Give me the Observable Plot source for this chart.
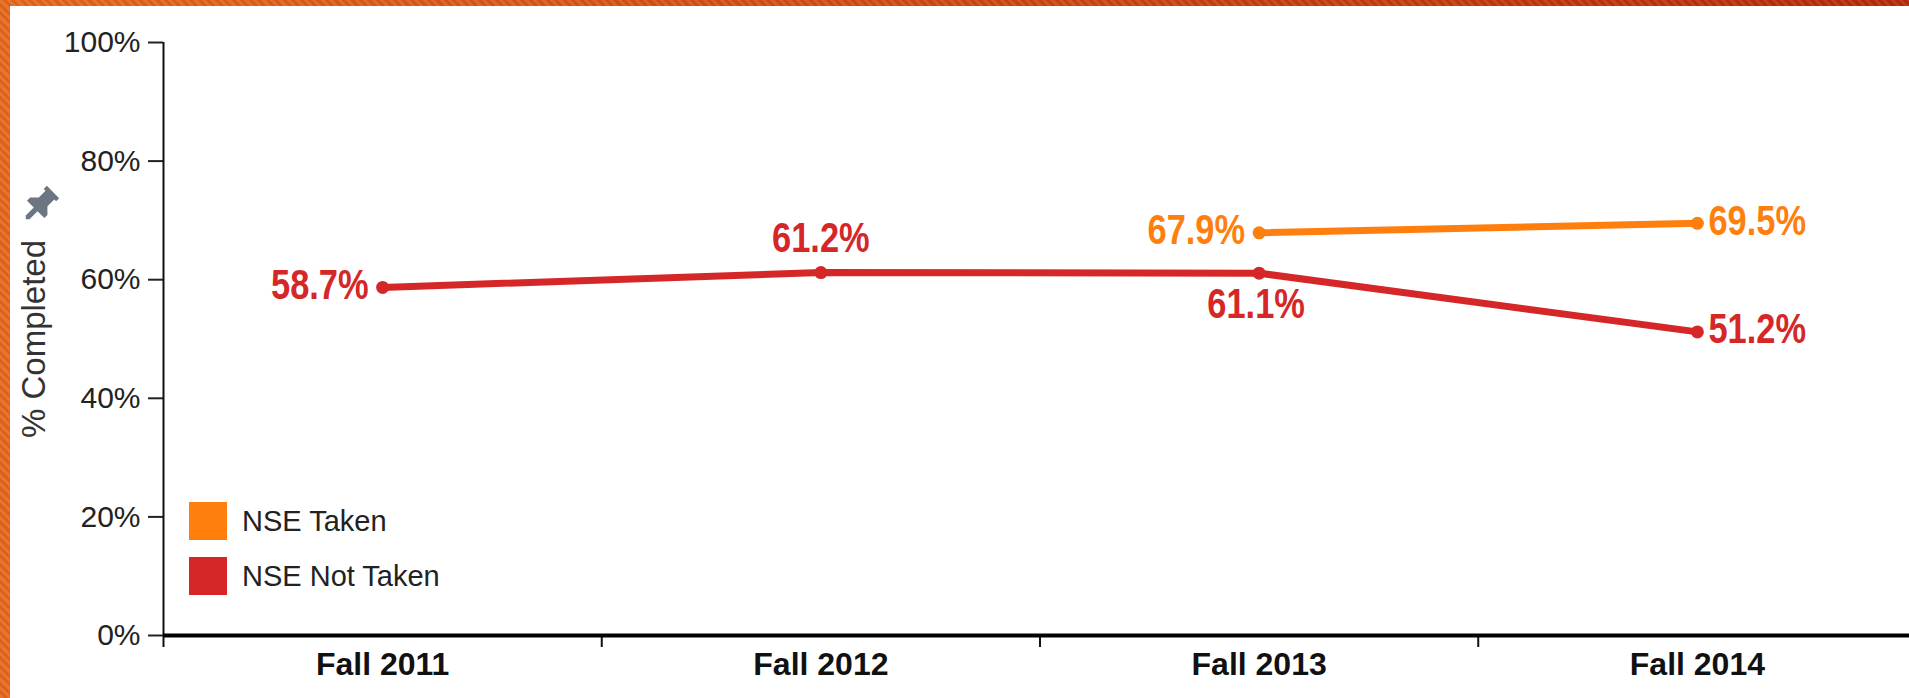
<!DOCTYPE html>
<html>
<head>
<meta charset="utf-8">
<script src="https://cdn.jsdelivr.net/npm/d3@7"></script>
<script src="https://cdn.jsdelivr.net/npm/@observablehq/plot@0.6"></script>
<style>
  html, body { margin: 0; padding: 0; width: 1909px; height: 698px; overflow: hidden; }
  body {
    position: relative;
    font-family: "Liberation Sans", Arial, sans-serif;
    background:
      repeating-linear-gradient(45deg, rgba(255,255,255,0.07) 0 3px, rgba(0,0,0,0.06) 3px 6px),
      linear-gradient(to right, #e8691d, #b92b0a);
  }
  #panel { position: absolute; left: 10px; top: 6px; right: 0; bottom: 0; background: #fff; }
  #chart { position: absolute; left: 0; top: 0; }
  #legend { position: absolute; left: 189px; top: 502px; width: 400px; }
  #legend .lg-swatches { font-family: "Liberation Sans", Arial, sans-serif; font-size: 29px; color: #222; margin: 0; }
  #legend .lg-swatch { margin: 0 0 17px 0; padding: 0; display: flex; align-items: center; }
  #legend .lg-swatch > svg { margin-right: 15px; flex: none; }
  #pin { position: absolute; left: 19px; top: 184px; }
</style>
</head>
<body>
<div id="panel"></div>
<div id="chart"></div>
<div id="legend"></div>
<svg id="pin" width="42" height="42" viewBox="0 0 24 24">
  <g transform="rotate(45 12 12)" fill="#6b7682">
    <path d="M7 1.5h10v2.5h-1.5v5.5l3.5 3.5v2.5h-5.5v6.5l-1.5 1.5-1.5-1.5v-6.5H5v-2.5l3.5-3.5V4H7z"/>
  </g>
</svg>
<script>
// ---- data ----
const terms = [2011, 2012, 2013, 2014];
const termLabels = ["Fall 2011", "Fall 2012", "Fall 2013", "Fall 2014"];
const seriesNames = ["NSE Taken", "NSE Not Taken"];
const takenValues = [null, null, 67.9, 69.5];
const notTakenValues = [58.7, 61.2, 61.1, 51.2];
const seriesColors = ["#ff7f0e", "#d62728"];
const yTicks = [0, 20, 40, 60, 80, 100];
const termBoundaries = [2010.5, 2011.5, 2012.5, 2013.5];

// ---- table ----
const rows = [];
terms.forEach((t, i) => {
  if (takenValues[i] != null) rows.push({term: t, i, series: seriesNames[0], value: takenValues[i]});
  if (notTakenValues[i] != null) rows.push({term: t, i, series: seriesNames[1], value: notTakenValues[i]});
});
const fmt = d => d.value.toFixed(1) + "%";
const isTaken = d => d.series === seriesNames[0];

const labelFont = {
  fontFamily: "'Liberation Sans', Arial, sans-serif",
  fontWeight: "bold",
  fontSize: 42
};

const left = rows.filter(d => (isTaken(d) && d.i === 2) || (!isTaken(d) && d.i === 0));
const right = rows.filter(d => d.i === 3);
const above = rows.filter(d => !isTaken(d) && d.i === 1);
const below = rows.filter(d => !isTaken(d) && d.i === 2);

const chart = Plot.plot({
  width: 1909,
  height: 698,
  marginLeft: 163,
  marginTop: 42,
  marginBottom: 63,
  marginRight: 0,
  style: {background: "transparent", fontFamily: "'Liberation Sans', Arial, sans-serif", overflow: "visible"},
  x: {domain: [2010.5, 2014.5], range: [163, 1916]},
  y: {domain: [0, 100], range: [635, 42]},
  color: {domain: seriesNames, range: seriesColors},
  marks: [
    Plot.axisY({
      ticks: yTicks, tickFormat: d => d + "%", tickSize: 15, tickPadding: 8,
      fontSize: 30, color: "#222", strokeWidth: 2, label: null
    }),
    Plot.axisY({
      ticks: [], fontSize: 33, color: "#333",
      label: "% Completed", labelAnchor: "center", labelOffset: 142, labelArrow: "none"
    }),
    Plot.axisX({ticks: termBoundaries, tickFormat: () => "", tickSize: 12, strokeWidth: 2, color: "#111", label: null}),
    Plot.axisX({
      ticks: terms, tickSize: 0, tickPadding: 17,
      tickFormat: d => termLabels[terms.indexOf(d)],
      fontSize: 32, fontWeight: "bold", color: "#111", label: null
    }),
    Plot.ruleX([2010.5], {y1: 0, y2: 100, strokeWidth: 2, stroke: "#111"}),
    Plot.ruleY([0], {strokeWidth: 4, stroke: "#000"}),
    Plot.line(rows, {x: "term", y: "value", stroke: "series", z: "series", strokeWidth: 7}),
    Plot.dot(rows, {x: "term", y: "value", fill: "series", r: 6.5}),
    Plot.text(left, {x: "term", y: "value", text: fmt, fill: "series", textAnchor: "end", dx: -14, dy: -2, ...labelFont}),
    Plot.text(right, {x: "term", y: "value", text: fmt, fill: "series", textAnchor: "start", dx: 11, dy: -2, ...labelFont}),
    Plot.text(above, {x: "term", y: "value", text: fmt, fill: "series", dy: -34, ...labelFont}),
    Plot.text(below, {x: "term", y: "value", text: fmt, fill: "series", dx: -3, dy: 31, ...labelFont})
  ]
});
// condense the value labels horizontally (narrow bold face in the original)
chart.querySelectorAll("text").forEach(t => {
  if (!/^\d+\.\d%$/.test(t.textContent.trim())) return;
  const tr = t.getAttribute("transform");
  if (tr) {
    t.setAttribute("transform", tr + " scale(0.82,1)");
  } else {
    const x = +t.getAttribute("x") || 0, y = +t.getAttribute("y") || 0;
    t.removeAttribute("x"); t.removeAttribute("y");
    t.setAttribute("transform", `translate(${x},${y}) scale(0.82,1)`);
  }
});
document.getElementById("chart").appendChild(chart);

const legend = Plot.legend({
  color: {domain: seriesNames, range: seriesColors},
  legend: "swatches",
  columns: 1,
  swatchSize: 38,
  className: "lg"
});
document.getElementById("legend").appendChild(legend);
</script>
</body>
</html>
